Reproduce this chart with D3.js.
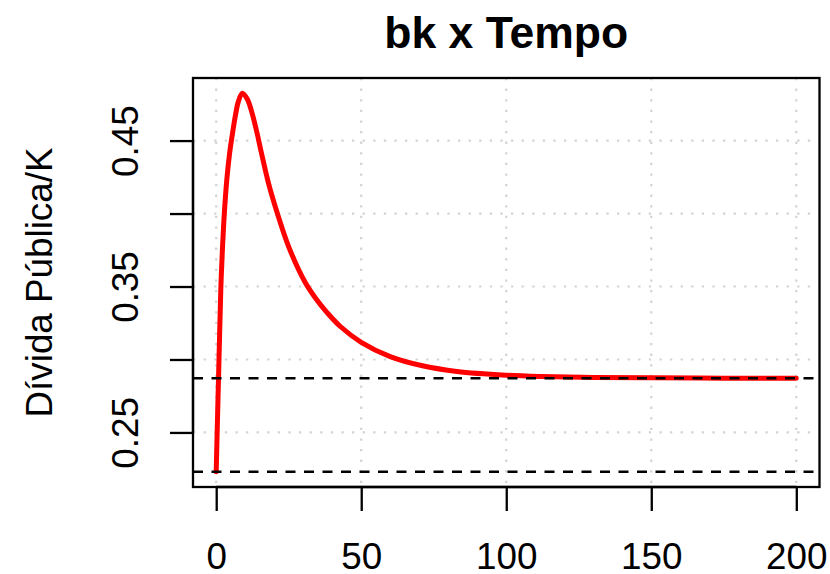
<!DOCTYPE html>
<html>
<head>
<meta charset="utf-8">
<script src="https://cdn.jsdelivr.net/npm/d3@7"></script>
<style>
  html, body { margin: 0; padding: 0; background: #fff; }
  svg { display: block; font-family: "Liberation Sans", Arial, sans-serif; }
</style>
</head>
<body>
<svg id="chart" width="830" height="574"></svg>
<script>
// Debt-to-capital ratio over time
const tempo = [0, 0.4, 0.8, 1.2, 1.6, 2.2, 2.8, 3.6, 4.6, 5.7, 6.7, 7.6, 9, 10.7, 12.2, 14.1, 15.6,
               18, 21.1, 25, 30.7, 34, 38.3, 42.8, 50, 60, 71.5, 83, 100, 112, 130, 150, 175, 200];
const bk    = [0.223, 0.256, 0.287, 0.319, 0.349, 0.378, 0.400, 0.422, 0.441, 0.456, 0.468, 0.4765, 0.4825,
               0.4785, 0.470, 0.455, 0.4415, 0.421, 0.400, 0.3772, 0.3527, 0.3427, 0.332, 0.3226, 0.3118,
               0.302, 0.2955, 0.2918, 0.2892, 0.2883, 0.2877, 0.2874, 0.2872, 0.2872];

// Horizontal reference levels: steady state and initial value
const refLines = [0.2872, 0.223];

const xTicks = [0, 50, 100, 150, 200];
const yTicks = [0.25, 0.30, 0.35, 0.40, 0.45];
const yTickLabels = ["0.25", "0.35", "0.45"];

const titleText = "bk x Tempo";
const yLabelText = "Dívida Pública/K";

const svg = d3.select("#chart");
const plot = { left: 193, right: 819.5, top: 78, bottom: 487 };
const fontSize = 36.8;
const lw = 2.3;

// Axis ranges padded by 4% on each side
function padded(ext) {
  const d = (ext[1] - ext[0]) * 0.04;
  return [ext[0] - d, ext[1] + d];
}
const x = d3.scaleLinear().domain(padded(d3.extent(tempo))).range([plot.left, plot.right]);
const y = d3.scaleLinear().domain(padded(d3.extent(bk))).range([plot.bottom, plot.top]);

// Dotted grid
const grid = svg.append("g")
  .attr("stroke", "#d3d3d3").attr("stroke-width", 2.2).attr("stroke-dasharray", "2.3,8.3");
grid.selectAll("line.v").data(xTicks).join("line").attr("class", "v")
  .attr("x1", d => x(d)).attr("x2", d => x(d))
  .attr("y1", plot.top).attr("y2", plot.bottom);
grid.selectAll("line.h").data(yTicks).join("line").attr("class", "h")
  .attr("x1", plot.left).attr("x2", plot.right)
  .attr("y1", d => y(d)).attr("y2", d => y(d));

// Series line
const line = d3.line()
  .x((d, i) => x(tempo[i]))
  .y(d => y(d))
  .curve(d3.curveCatmullRom.alpha(0.5));
svg.append("path")
  .datum(bk)
  .attr("fill", "none")
  .attr("stroke", "#ff0000")
  .attr("stroke-width", 5)
  .attr("stroke-linejoin", "round")
  .attr("stroke-linecap", "round")
  .attr("d", line);

// Dashed reference lines
svg.append("g").selectAll("line").data(refLines).join("line")
  .attr("x1", plot.left).attr("x2", plot.right)
  .attr("y1", d => y(d)).attr("y2", d => y(d))
  .attr("stroke", "#000").attr("stroke-width", 2.5)
  .attr("stroke-dasharray", "10,8.5");

// Plot frame
svg.append("rect")
  .attr("x", plot.left).attr("y", plot.top)
  .attr("width", plot.right - plot.left).attr("height", plot.bottom - plot.top)
  .attr("fill", "none").attr("stroke", "#000").attr("stroke-width", lw);

// X axis
const xAxis = svg.append("g")
  .attr("transform", `translate(0,${plot.bottom})`)
  .call(d3.axisBottom(x).tickValues(xTicks).tickSize(24).tickFormat(d3.format("d")));
xAxis.select(".domain").attr("d", `M${x(xTicks[0])},0H${x(xTicks[xTicks.length - 1])}`)
  .attr("stroke-width", lw);
xAxis.selectAll(".tick line").attr("stroke-width", lw);
xAxis.selectAll(".tick text")
  .attr("y", 82).attr("dy", null)
  .attr("font-size", fontSize).attr("font-family", "Liberation Sans, Arial, sans-serif")
  .attr("fill", "#000");

// Y axis
const yAxis = svg.append("g")
  .attr("transform", `translate(${plot.left},0)`)
  .call(d3.axisLeft(y).tickValues(yTicks).tickSize(23)
    .tickFormat(d => {
      const s = d3.format(".2f")(d);
      return yTickLabels.includes(s) ? s : "";
    }));
yAxis.select(".domain").attr("d", `M0,${y(yTicks[0])}V${y(yTicks[yTicks.length - 1])}`)
  .attr("stroke-width", lw);
yAxis.selectAll(".tick line").attr("stroke-width", lw);
yAxis.selectAll(".tick text")
  .attr("x", 0).attr("y", -55).attr("dy", null)
  .attr("transform", "rotate(-90)")
  .attr("text-anchor", "middle")
  .attr("font-size", fontSize).attr("font-family", "Liberation Sans, Arial, sans-serif")
  .attr("fill", "#000");

// Title
svg.append("text")
  .attr("x", (plot.left + plot.right) / 2).attr("y", 48)
  .attr("text-anchor", "middle")
  .attr("font-size", 44.5).attr("font-weight", "bold")
  .text(titleText);

// Y axis title
svg.append("text")
  .attr("transform", `translate(52,${(plot.top + plot.bottom) / 2}) rotate(-90)`)
  .attr("text-anchor", "middle")
  .attr("font-size", fontSize)
  .text(yLabelText);
</script>
</body>
</html>
